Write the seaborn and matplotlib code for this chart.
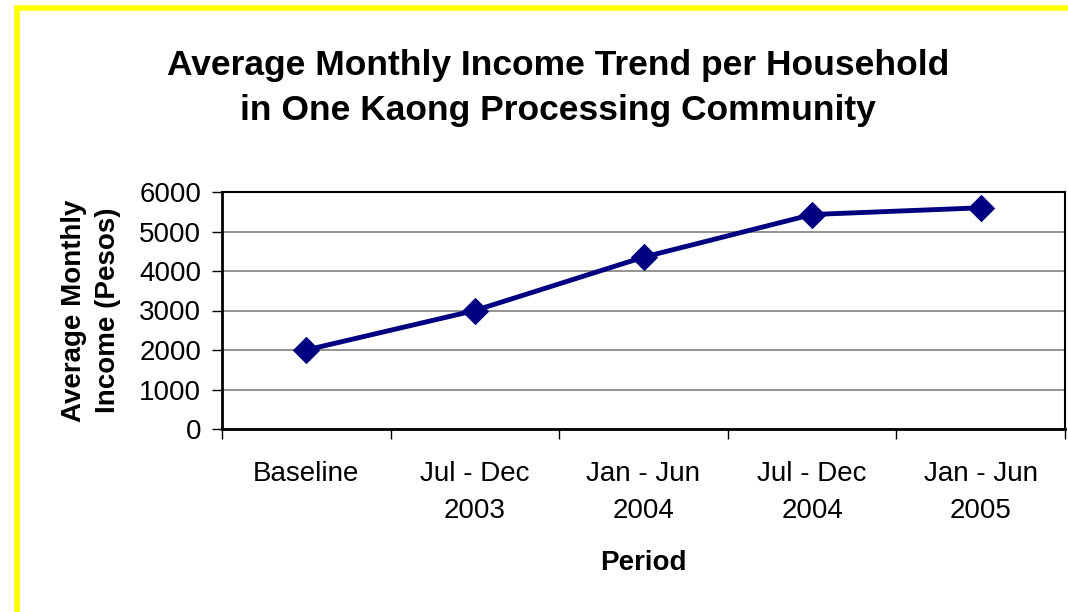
import matplotlib
matplotlib.use("Agg")
import matplotlib.pyplot as plt
import matplotlib.patches as mpatches
import seaborn as sns
import pandas as pd

periods = ["Baseline", "Jul - Dec\n2003", "Jan - Jun\n2004", "Jul - Dec\n2004", "Jan - Jun\n2005"]
income = [2000, 3000, 4350, 5430, 5600]

sns.set_style("white")
plt.rcParams['font.family'] = ['Liberation Sans', 'DejaVu Sans']
plt.rcParams['text.color'] = 'black'
plt.rcParams['axes.labelcolor'] = 'black'
plt.rcParams['xtick.color'] = 'black'
plt.rcParams['ytick.color'] = 'black'

df = pd.DataFrame({"pos": range(len(periods)), "income": income})

fig = plt.figure(figsize=(10.68, 6.12), dpi=100)
fig.patch.set_facecolor("white")

# yellow frame (cropped on right and bottom)
fig.patches.append(mpatches.Rectangle((16.5 / 1068, -0.05), 1.2, 1 - 7.5 / 612 + 0.05,
                                      transform=fig.transFigure, fill=False,
                                      edgecolor="#ffff00", linewidth=4))

ax = fig.add_axes([222 / 1068, 1 - 429 / 612, (1065 - 222) / 1068, (429 - 192) / 612])
sns.lineplot(data=df, x="pos", y="income", ax=ax, color="#000080", linewidth=3.5,
             marker="D", markersize=13, markeredgecolor="#000080")

ax.set_xlim(-0.5, len(periods) - 0.5)
ax.set_ylim(0, 6000)
ax.set_yticks(range(0, 6001, 1000))
ax.yaxis.grid(True, color="#808080", linewidth=1.2)
ax.set_axisbelow(True)

ax.set_xticks(range(len(periods)))
ax.set_xticklabels(periods, linespacing=1.55)
ax.set_xticks([i - 0.5 for i in range(len(periods) + 1)], minor=True)
ax.tick_params(axis="x", which="major", length=0, pad=23, labelsize=20)
ax.tick_params(axis="x", which="minor", length=7, width=1, color="black", direction="out")
ax.tick_params(axis="y", length=7, width=1, color="black", direction="out", pad=8, labelsize=20)
ax.tick_params(left=True, bottom=True, which="both")

for s in ax.spines.values():
    s.set_color("black")
    s.set_linewidth(1.5)
ax.spines["left"].set_linewidth(2)
ax.spines["bottom"].set_linewidth(2)

ax.set_xlabel("Period", fontsize=20, fontweight="bold", labelpad=19)
ax.set_ylabel("Average Monthly\nIncome (Pesos)", fontsize=20, fontweight="bold",
              labelpad=13, linespacing=1.4)

fig.text(558 / 1068, 1 - 88 / 612,
         "Average Monthly Income Trend per Household\nin One Kaong Processing Community",
         ha="center", va="center", fontsize=25.5, fontweight="bold", linespacing=1.45)

fig.savefig("out.png", dpi=100)
